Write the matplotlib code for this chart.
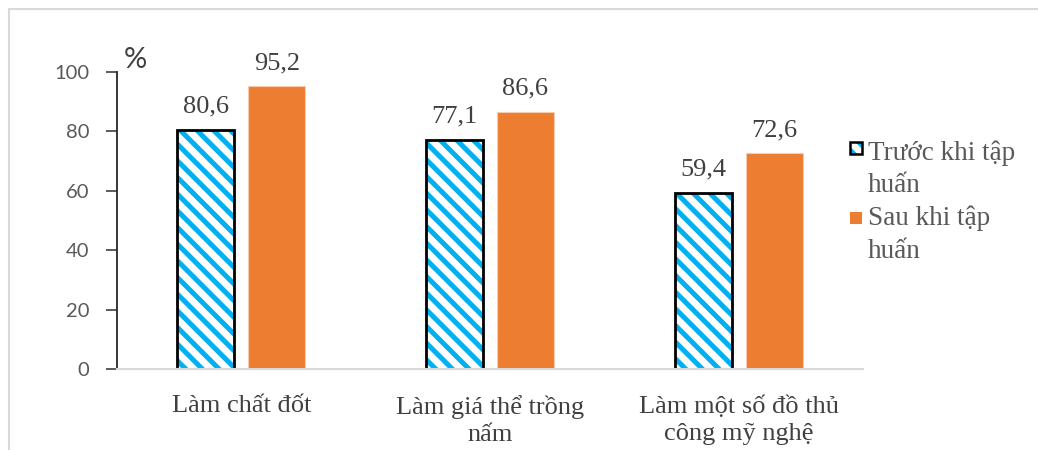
import matplotlib
matplotlib.use("Agg")
import matplotlib.pyplot as plt
import numpy as np
from matplotlib.patches import Rectangle

categories = ["Làm chất đốt", "Làm giá thể trồng\nnấm", "Làm một số đồ thủ\ncông mỹ nghệ"]
series_names = ["Trước khi tập\nhuấn", "Sau khi tập\nhuấn"]
before = [80.6, 77.1, 59.4]
after = [95.2, 86.6, 72.6]
yticks = [0, 20, 40, 60, 80, 100]

BLUE = '#00B0F0'
ORANGE = '#ED7D31'
plt.rcParams['hatch.linewidth'] = 3.6

serif = ['Liberation Serif', 'DejaVu Serif']
sans = ['Lato', 'DejaVu Sans']

W, H = 1038, 450
fig = plt.figure(figsize=(W/100, H/100), dpi=100)
ax = fig.add_axes([117/W, 1-369/H, (863-117)/W, (369-72)/H])

x = np.arange(len(categories))
w = 0.229
off = 0.1426
# hatched fill (hatch colour follows edgecolor), then black outline on top
ax.bar(x - off, before, w, facecolor='white', edgecolor=BLUE, linewidth=0, hatch='\\\\')
b1 = ax.bar(x - off, before, w, fill=False, edgecolor='black', linewidth=2.0)
b2 = ax.bar(x + off, after, w, color=ORANGE, edgecolor='#F8CBAD', linewidth=0.8)

for bars, vals in ((b1, before), (b2, after)):
    for p, v in zip(bars, vals):
        ax.annotate(f"{v:.1f}".replace('.', ','), (p.get_x() + p.get_width()/2, v),
                    xytext=(0, 12.3), textcoords='offset points',
                    ha='center', va='baseline', fontsize=19, family=serif, color='#404040')

ax.set_xlim(-0.5, 2.5)
ax.set_ylim(0, 100)
ax.set_yticks(yticks)
ax.set_yticklabels([str(t) for t in yticks], fontsize=14.5, family=sans, color='#595959')
ax.set_xticks(x)
ax.set_xticklabels(categories, fontsize=19, family=serif, color='#404040', linespacing=1.3)
ax.tick_params(axis='x', length=0, pad=19)
ax.tick_params(axis='y', length=8, width=1.2, color='#404040', pad=12)
for s in ('top', 'right'):
    ax.spines[s].set_visible(False)
ax.spines['left'].set_color('#262626')
ax.spines['left'].set_linewidth(1.3)
ax.spines['bottom'].set_color('#D9D9D9')
ax.spines['bottom'].set_linewidth(1.5)

fig.text(124/W, 1-60/H, '%', fontsize=21, family=sans, color='#404040', va='center', ha='left')

# legend drawn by hand: handle beside the first line of each wrapped label
leg_handles = [(142, 'hatch'), (212, 'solid')]
leg_baselines = [(160, 192), (225, 258)]
for (ytop, kind), name, bls in zip(leg_handles, series_names, leg_baselines):
    if kind == 'hatch':
        fig.patches.append(Rectangle((850/W, 1-(ytop+12)/H), 12/W, 12/H, transform=fig.transFigure,
                                     facecolor='white', edgecolor=BLUE, hatch='\\\\', linewidth=0))
        fig.patches.append(Rectangle((850/W, 1-(ytop+12)/H), 12/W, 12/H, transform=fig.transFigure,
                                     fill=False, edgecolor='black', linewidth=1.8))
    else:
        fig.patches.append(Rectangle((850/W, 1-(ytop+12)/H), 12/W, 12/H, transform=fig.transFigure,
                                     facecolor=ORANGE, edgecolor=ORANGE, linewidth=0))
    for line, bl in zip(name.split('\n'), bls):
        fig.text(868/W, 1-bl/H, line, fontsize=19.5, family=serif, color='#595959',
                 va='baseline', ha='left')

fig.patches.append(Rectangle((9/W, -0.1), 1.2, 1.1 - 9/H, transform=fig.transFigure,
                             fill=False, edgecolor='#D9D9D9', linewidth=1.5))

fig.savefig('out.png', dpi=100)
